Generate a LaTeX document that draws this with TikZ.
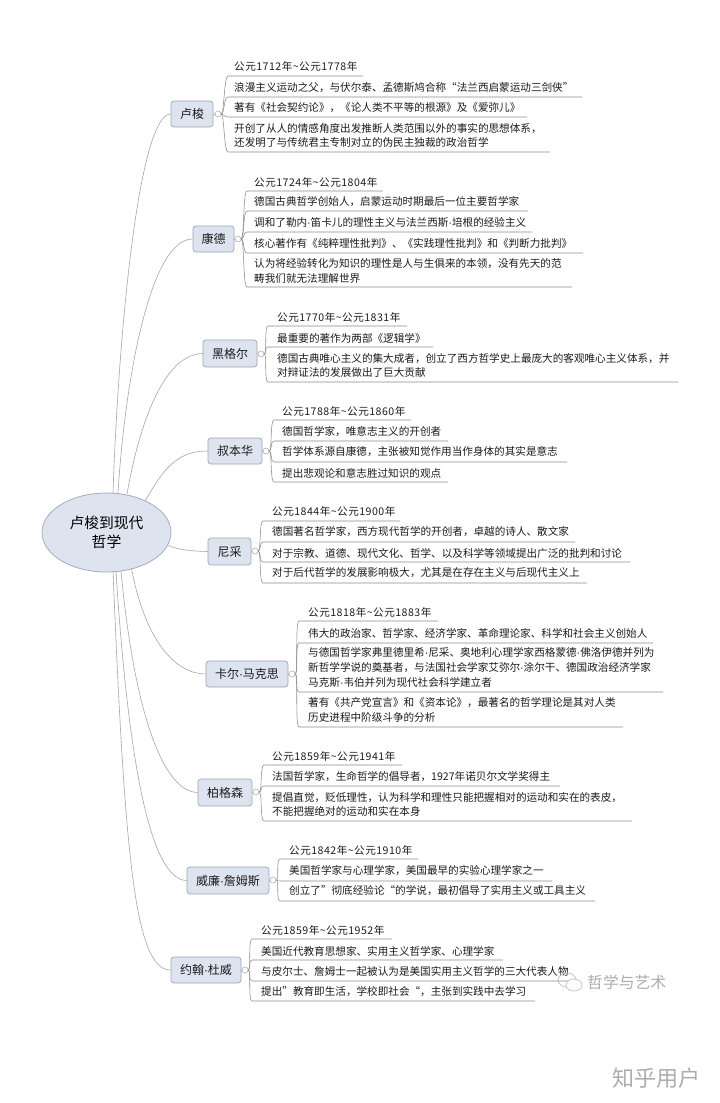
\documentclass[tikz,border=0pt]{standalone}
\usepackage{fontspec}
\setmainfont{Noto Sans CJK SC}
\newfontfamily\dotfont{Liberation Sans}
\newcommand{\ndot}{{\dotfont ·}}
\newcommand{\spanyears}[1]{{\addfontfeature{LetterSpace=4.5}#1}}
\usetikzlibrary{calc,shapes.geometric}
\definecolor{boxfill}{HTML}{DDE4F0}
\definecolor{boxline}{HTML}{9BA6B6}
\definecolor{linkc}{HTML}{A6A6A6}
\definecolor{underc}{HTML}{8C8C8C}
\definecolor{inkc}{HTML}{1C1C1C}
\tikzset{
  rootnode/.style={ellipse,draw=boxline,fill=boxfill,line width=.7pt,minimum width=129pt,minimum height=79pt,inner sep=0pt,align=center,text=black,font=\fontsize{14.8}{19.5}\selectfont},
  topic/.style={rectangle,rounded corners=3pt,draw=boxline,fill=boxfill,line width=.7pt,inner sep=0pt,text=inkc,font=\fontsize{12}{14}\selectfont},
  hubdot/.style={circle,draw=linkc,fill=white,line width=.5pt,minimum size=6pt,inner sep=0pt},
  leaftext/.style={anchor=west,inner sep=0pt,align=left,text=inkc,font=\fontsize{10.6}{14.6}\selectfont},
  mainlink/.style={draw=linkc,line width=.6pt},
  leaflink/.style={draw=underc,line width=.55pt},
  markc/.style={text=black!32,inner sep=0pt}
}
% id, hub, left x, text x, text y, underline y, right x, text
\newcommand{\leafitem}[8]{%
  \node[leaftext] (#1) at (#4,#5) {#8};
  \coordinate (#1s) at (#3,#6);
  \coordinate (#1e) at (#7,#6);
  \draw[leaflink] (#2.east) .. controls ($(#2.east)+(3,0)$) and ($(#1s)+(-4,0)$) .. (#1s) -- (#1e);
}
\newcommand{\topicbox}[6]{% id, x0, y0, x1, y1, text
  \node[topic,minimum width=#4pt-#2pt,minimum height=#5pt-#3pt] (#1) at ({(#2+#4)/2},{(#3+#5)/2}) {#6};
}
\begin{document}
\begin{tikzpicture}[x=1pt,y=-1pt]
\useasboundingbox (0,0) rectangle (720,1103);
\fill[white] (0,0) rectangle (720,1103);

\node[rootnode] (root) at (106.5,532.5) {卢梭到现代\\哲学};
\topicbox{a}{171}{101}{213}{127}{卢梭}
\topicbox{b}{193}{226}{234}{252}{康德}
\topicbox{c}{203}{340}{257}{367}{黑格尔}
\topicbox{d}{208}{438}{262}{464}{叔本华}
\topicbox{e}{208}{538}{251}{565}{尼采}
\topicbox{f}{206}{661}{288}{687}{卡尔\ndot 马克思}
\topicbox{g}{198}{779}{252}{806}{柏格森}
\topicbox{h}{187}{867}{269}{894}{威廉\ndot 詹姆斯}
\topicbox{i}{171}{957}{241}{983}{约翰\ndot 杜威}

\draw[mainlink] (root.center) ++(6.5,-39.5) .. controls (119,320) and (140,114) .. (a.west);
\draw[mainlink] (root.center) ++(11.5,-39.5) .. controls (125,380) and (150,239) .. (b.west);
\draw[mainlink] (root.center) ++(20.5,-38.5) .. controls (140,420) and (165,354) .. (c.west);
\draw[mainlink] (root.center) ++(39,-32) .. controls (165,465) and (180,451) .. (d.west);
\draw[mainlink] (root.center) ++(61,13) .. controls (180,550) and (190,551) .. (e.west);
\draw[mainlink] (root.center) ++(25,36) .. controls (145,640) and (175,674) .. (f.west);
\draw[mainlink] (root.center) ++(14.5,38.5) .. controls (135,720) and (165,792) .. (g.west);
\draw[mainlink] (root.center) ++(9.5,39) .. controls (130,790) and (155,880) .. (h.west);
\draw[mainlink] (root.center) ++(6.5,39) .. controls (125,860) and (135,970) .. (i.west);

\node[hubdot] (ah) at (218,114) {};
\node[hubdot] (bh) at (238,239) {};
\node[hubdot] (ch) at (261,354) {};
\node[hubdot] (dh) at (266,451) {};
\node[hubdot] (eh) at (255,551) {};
\node[hubdot] (fh) at (292,674) {};
\node[hubdot] (gh) at (256,792) {};
\node[hubdot] (hh) at (273,880) {};
\node[hubdot] (ih) at (245,970) {};
\draw[mainlink] (a.east) -- (ah.west);
\draw[mainlink] (b.east) -- (bh.west);
\draw[mainlink] (c.east) -- (ch.west);
\draw[mainlink] (d.east) -- (dh.west);
\draw[mainlink] (e.east) -- (eh.west);
\draw[mainlink] (f.east) -- (fh.west);
\draw[mainlink] (g.east) -- (gh.west);
\draw[mainlink] (h.east) -- (hh.west);
\draw[mainlink] (i.east) -- (ih.west);

\leafitem{a1}{ah}{228}{234}{66}{76}{363}{\spanyears{公元1712年\textasciitilde 公元1778年}}
\leafitem{a2}{ah}{228}{234}{88}{97}{582}{浪漫主义运动之父，与伏尔泰、孟德斯鸠合称“法兰西启蒙运动三剑侠”}
\leafitem{a3}{ah}{228}{234}{108}{117}{527}{著有《社会契约论》，《论人类不平等的根源》及《爱弥儿》}
\leafitem{a4}{ah}{228}{234}{135.5}{152}{550}{开创了从人的情感角度出发推断人类范围以外的事实的思想体系，\\还发明了与传统君主专制对立的伪民主独裁的政治哲学}

\leafitem{b1}{bh}{247}{254}{182}{191}{383}{\spanyears{公元1724年\textasciitilde 公元1804年}}
\leafitem{b2}{bh}{247}{254}{202}{211}{528}{德国古典哲学创始人，启蒙运动时期最后一位主要哲学家}
\leafitem{b3}{bh}{247}{254}{223}{232}{532}{调和了勒内\ndot 笛卡儿的理性主义与法兰西斯\ndot 培根的经验主义}
\leafitem{b4}{bh}{247}{254}{243}{253}{583}{核心著作有《纯粹理性批判》、《实践理性批判》和《判断力批判》}
\leafitem{b5}{bh}{247}{254}{271}{287}{572}{认为将经验转化为知识的理性是人与生俱来的本领，没有先天的范\\畴我们就无法理解世界}

\leafitem{c1}{ch}{268}{277}{317}{326}{407}{\spanyears{公元1770年\textasciitilde 公元1831年}}
\leafitem{c2}{ch}{268}{277}{338}{347}{433}{最重要的著作为两部《逻辑学》}
\leafitem{c3}{ch}{268}{277}{365.5}{382}{678}{德国古典唯心主义的集大成者，创立了西方哲学史上最庞大的客观唯心主义体系，并\\对辩证法的发展做出了巨大贡献}

\leafitem{d1}{dh}{274}{282}{411}{420}{411}{\spanyears{公元1788年\textasciitilde 公元1860年}}
\leafitem{d2}{dh}{274}{282}{432}{441}{448}{德国哲学家，唯意志主义的开创者}
\leafitem{d3}{dh}{274}{282}{452}{462}{567}{哲学体系源自康德，主张被知觉作用当作身体的其实是意志}
\leafitem{d4}{dh}{274}{282}{473}{482}{448}{提出悲观论和意志胜过知识的观点}

\leafitem{e1}{eh}{263}{272}{511}{521}{400}{\spanyears{公元1844年\textasciitilde 公元1900年}}
\leafitem{e2}{eh}{263}{272}{532}{542}{575}{德国著名哲学家，西方现代哲学的开创者，卓越的诗人、散文家}
\leafitem{e3}{eh}{263}{272}{553}{562}{630}{对于宗教、道德、现代文化、哲学、以及科学等领域提出广泛的批判和讨论}
\leafitem{e4}{eh}{263}{272}{573}{583}{587}{对于后代哲学的发展影响极大，尤其是在存在主义与后现代主义上}

\leafitem{f1}{fh}{299}{308}{612}{621}{438}{\spanyears{公元1818年\textasciitilde 公元1883年}}
\leafitem{f2}{fh}{299}{308}{633}{643}{653}{伟大的政治家、哲学家、经济学家、革命理论家、科学和社会主义创始人}
\leafitem{f3}{fh}{299}{308}{667.5}{692}{663}{与德国哲学家弗里德里希\ndot 尼采、奥地利心理学家西格蒙德\ndot 佛洛伊德并列为\\新哲学学说的奠基者，与法国社会学家艾弥尔\ndot 涂尔干、德国政治经济学家\\马克斯\ndot 韦伯并列为现代社会科学建立者}
\leafitem{f4}{fh}{299}{308}{710}{727}{623}{著有《共产党宣言》和《资本论》，最著名的哲学理论是其对人类\\历史进程中阶级斗争的分析}

\leafitem{g1}{gh}{264}{272}{756}{765}{402}{\spanyears{公元1859年\textasciitilde 公元1941年}}
\leafitem{g2}{gh}{264}{272}{777}{786}{560}{法国哲学家，生命哲学的倡导者，1927年诺贝尔文学奖得主}
\leafitem{g3}{gh}{264}{272}{804.5}{821}{632}{提倡直觉，贬低理性，认为科学和理性只能把握相对的运动和实在的表皮，\\不能把握绝对的运动和实在本身}

\leafitem{h1}{hh}{280}{289}{850}{859}{418}{\spanyears{公元1842年\textasciitilde 公元1910年}}
\leafitem{h2}{hh}{280}{289}{871}{881}{552}{美国哲学家与心理学家，美国最早的实验心理学家之一}
\leafitem{h3}{hh}{280}{289}{891}{901}{595}{创立了”彻底经验论“的学说，最初倡导了实用主义或工具主义}

\leafitem{i1}{ih}{252}{261}{930}{939}{392}{\spanyears{公元1859年\textasciitilde 公元1952年}}
\leafitem{i2}{ih}{252}{261}{951}{960}{503}{美国近代教育思想家、实用主义哲学家、心理学家}
\leafitem{i3}{ih}{252}{261}{971}{981}{568}{与皮尔士、詹姆士一起被认为是美国实用主义哲学的三大代表人物}
\leafitem{i4}{ih}{252}{261}{992}{1001}{535}{提出”教育即生活，学校即社会“，主张到实践中去学习}

\draw[black!25,line width=.7pt] (567,980) ellipse (9pt and 7pt);
\draw[black!25,line width=.7pt,fill=white] (574,985) ellipse (8pt and 6pt);
\node[markc,anchor=west,font=\fontsize{15.8}{18}\selectfont] (mark1) at (587,982) {哲学与艺术};
\node[markc,anchor=west,font=\fontsize{22}{24}\selectfont] (mark2) at (612,1078) {知乎用户};
\end{tikzpicture}
\end{document}
